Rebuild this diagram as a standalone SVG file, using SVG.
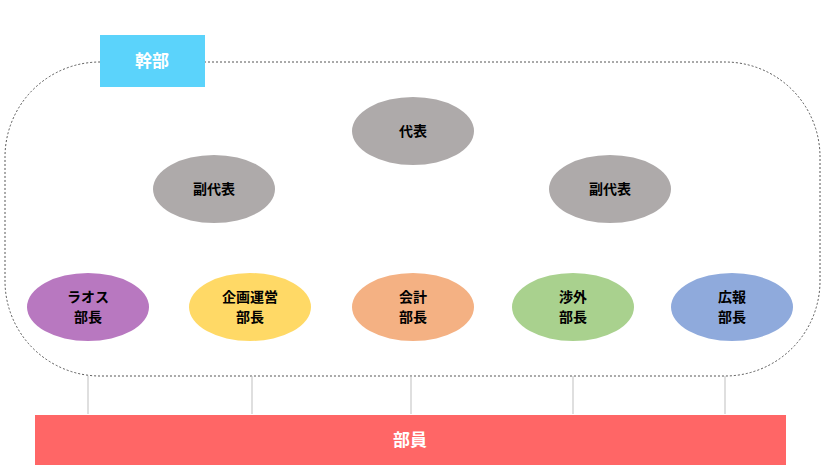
<svg xmlns="http://www.w3.org/2000/svg" width="826" height="465" viewBox="0 0 826 465">
<style>
text{font-family:"Noto Sans CJK JP","Noto Sans",sans-serif;font-weight:bold;font-size:14px;text-anchor:middle;fill:#000}
.w{fill:#fff;font-size:17px}
.ln{stroke:#bfbfbf;stroke-width:1}
</style>
<rect width="826" height="465" fill="#fff"/>
<g id="group-frame"><rect x="5" y="62" width="815" height="314" rx="95" fill="none" stroke="#555" stroke-dasharray="2,2"/></g>
<g id="connectors">
<line class="ln" x1="88" y1="376" x2="88" y2="414"/>
<line class="ln" x1="252" y1="376" x2="252" y2="414"/>
<line class="ln" x1="411" y1="376" x2="411" y2="414"/>
<line class="ln" x1="573" y1="376" x2="573" y2="414"/>
<line class="ln" x1="725" y1="376" x2="725" y2="414"/>
</g>
<g id="kanbu"><rect x="100" y="35" width="105" height="52" fill="#5BD3FB"/><text class="w" x="152" y="67">幹部</text></g>
<g id="daihyo"><ellipse cx="413" cy="131" rx="61" ry="34" fill="#AEAAAA"/><text x="413" y="136">代表</text></g>
<g id="fuku1"><ellipse cx="214" cy="189" rx="61" ry="34" fill="#AEAAAA"/><text x="214" y="194">副代表</text></g>
<g id="fuku2"><ellipse cx="610" cy="189" rx="61" ry="34" fill="#AEAAAA"/><text x="610" y="194">副代表</text></g>
<g id="laos"><ellipse cx="88" cy="307" rx="61" ry="34" fill="#B878C0"/><text x="88" y="302">ラオス</text><text x="88" y="322">部長</text></g>
<g id="kikaku"><ellipse cx="250" cy="307" rx="61" ry="34" fill="#FFD966"/><text x="250" y="302">企画運営</text><text x="250" y="322">部長</text></g>
<g id="kaikei"><ellipse cx="413" cy="307" rx="61" ry="34" fill="#F4B183"/><text x="413" y="302">会計</text><text x="413" y="322">部長</text></g>
<g id="shogai"><ellipse cx="573" cy="307" rx="61" ry="34" fill="#A9D18E"/><text x="573" y="302">渉外</text><text x="573" y="322">部長</text></g>
<g id="koho"><ellipse cx="732" cy="307" rx="61" ry="34" fill="#8FAADC"/><text x="732" y="302">広報</text><text x="732" y="322">部長</text></g>
<g id="buin"><rect x="35" y="415" width="751" height="50" fill="#FF6666"/><text class="w" x="410" y="446">部員</text></g>
</svg>
